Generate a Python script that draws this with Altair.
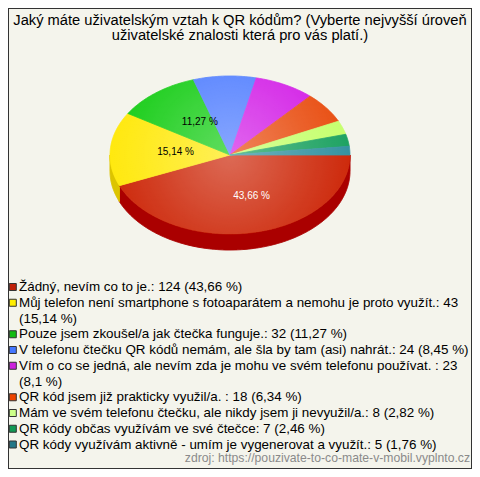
import math
import textwrap
import numpy as np
import pandas as pd
import altair as alt

# ---------------- data ----------------
labels = [
    "Žádný, nevím co to je.",
    "Můj telefon není smartphone s fotoaparátem a nemohu je proto využít.",
    "Pouze jsem zkoušel/a jak čtečka funguje.",
    "V telefonu čtečku QR kódů nemám, ale šla by tam (asi) nahrát.",
    "Vím o co se jedná, ale nevím zda je mohu ve svém telefonu používat. ",
    "QR kód jsem již prakticky využil/a. ",
    "Mám ve svém telefonu čtečku, ale nikdy jsem ji nevyužil/a.",
    "QR kódy občas využívám ve své čtečce",
    "QR kódy využívám aktivně - umím je vygenerovat a využít.",
]
counts = [124, 43, 32, 24, 23, 18, 8, 7, 5]

top_colors = ["#cc2405", "#ffe808", "#14cc14", "#4f7dff", "#d21ce6",
              "#e84a0c", "#c4ff6a", "#18a05e", "#30909f"]
side_colors = ["#aa0000", "#dcc400", "#109910", "#3355cc", "#9911aa",
               "#b83000", "#99cc44", "#117744", "#226677"]
swatch_colors = ["#c02008", "#ffee00", "#11bb11", "#4477ff", "#cc22dd",
                 "#ee4400", "#ccff88", "#119955", "#227788"]

title_lines = ["Jaký máte uživatelským vztah k QR kódům? (Vyberte nejvyšší úroveň",
               "uživatelské znalosti která pro vás platí.)"]
source_text = "zdroj: https://pouzivate-to-co-mate-v-mobil.vyplnto.cz"

# ---------------- geometry / style constants ----------------
W, H = 464, 461
CX, CY, RX, RY, DEPTH = 222, 147, 120, 79, 16
FONT = "Liberation Sans"

total = sum(counts)
pcts = [c / total * 100 for c in counts]
pct_txt = [f"{round(p, 2):g}".replace(".", ",") for p in pcts]
names = [f"s{i}" for i in range(len(counts))]

cum = np.concatenate([[0], np.cumsum(counts)]) / total * 2 * math.pi

top_rows, wall_rows, lab_rows = [], [], []
for i, n in enumerate(names):
    a, b = cum[i], cum[i + 1]
    ts = np.linspace(a, b, max(3, int((b - a) * 180 / math.pi * 2)))
    k = 0
    top_rows.append(dict(s=n, k=k, x=CX, y=CY)); k += 1
    for t in ts:
        top_rows.append(dict(s=n, k=k, x=CX + RX * math.cos(t), y=CY + RY * math.sin(t))); k += 1
    top_rows.append(dict(s=n, k=k, x=CX, y=CY))
    # visible front wall (lower half of the ellipse)
    wa, wb = max(a, 0), min(b, math.pi)
    if wb > wa:
        ws = np.linspace(wa, wb, max(3, int((wb - wa) * 180 / math.pi * 2)))
        k = 0
        for t in ws:
            wall_rows.append(dict(s=n, k=k, x=CX + RX * math.cos(t), y=CY + RY * math.sin(t))); k += 1
        for t in ws[::-1]:
            wall_rows.append(dict(s=n, k=k, x=CX + RX * math.cos(t), y=CY + DEPTH + RY * math.sin(t))); k += 1
        wall_rows.append(dict(s=n, k=k, x=CX + RX * math.cos(ws[0]), y=CY + RY * math.sin(ws[0])))
    if pcts[i] >= 10:
        m = (a + b) / 2
        lab_rows.append(dict(x=CX + 0.53 * RX * math.cos(m), y=CY + 0.53 * RY * math.sin(m),
                             t=f"{pct_txt[i]} %", c="white" if i == 0 else "black"))

top_df = pd.DataFrame(top_rows)
wall_df = pd.DataFrame(wall_rows)
lab_df = pd.DataFrame(lab_rows)
ring = np.linspace(0, 2 * math.pi, 361)
shade_df = pd.DataFrame({"k": range(len(ring)),
                         "x": CX + RX * np.cos(ring), "y": CY + RY * np.sin(ring)})

# legend lines
leg_rows = []
line = 0
for i in range(len(counts)):
    full = f"{labels[i]}: {counts[i]} ({pct_txt[i]} %)"
    parts = textwrap.wrap(full, 74, break_on_hyphens=False)
    for j, p in enumerate(parts):
        leg_rows.append(dict(line=line, text=p, col=swatch_colors[i] if j == 0 else None, first=j == 0))
        line += 1
leg_df = pd.DataFrame(leg_rows)
sw_df = leg_df[leg_df["first"]]

xs = alt.Scale(domain=[0, W], range=[0, W])
ys = alt.Scale(domain=[0, H], range=[0, H])
top_scale = alt.Scale(domain=names, range=top_colors)
side_scale = alt.Scale(domain=names, range=side_colors)

walls = alt.Chart(wall_df).mark_line(strokeWidth=1, interpolate="linear").encode(
    x=alt.X("x:Q", scale=xs, axis=None),
    y=alt.Y("y:Q", scale=ys, axis=None),
    order=alt.Order("k:Q"),
    fill=alt.Fill("s:N", scale=side_scale, legend=None),
    stroke=alt.Stroke("s:N", scale=side_scale, legend=None),
)
tops = alt.Chart(top_df).mark_line(strokeWidth=0.8, interpolate="linear").encode(
    x=alt.X("x:Q", scale=xs, axis=None),
    y=alt.Y("y:Q", scale=ys, axis=None),
    order=alt.Order("k:Q"),
    fill=alt.Fill("s:N", scale=top_scale, legend=None),
    stroke=alt.Stroke("s:N", scale=top_scale, legend=None),
)
shade = alt.Chart(shade_df).mark_line(
    strokeOpacity=0, strokeWidth=0, interpolate="linear",
    fill=alt.Gradient(gradient="radial", x1=0.5, y1=0.5, r1=0, x2=0.5, y2=0.5, r2=0.55,
                      stops=[alt.GradientStop(color="rgba(255,255,255,0.32)", offset=0),
                             alt.GradientStop(color="rgba(255,255,255,0.12)", offset=0.6),
                             alt.GradientStop(color="rgba(255,255,255,0)", offset=1)]),
).encode(
    x=alt.X("x:Q", scale=xs, axis=None),
    y=alt.Y("y:Q", scale=ys, axis=None),
    order=alt.Order("k:Q"),
)
pie_labels = alt.Chart(lab_df).mark_text(fontSize=10, font=FONT, baseline="middle", dx=9).encode(
    x=alt.X("x:Q", scale=xs, axis=None),
    y=alt.Y("y:Q", scale=ys, axis=None),
    text="t:N",
    color=alt.Color("c:N", scale=None),
)

one = pd.DataFrame({"a": [0]})
title = alt.Chart(one).mark_text(fontSize=14.7, font=FONT, align="center", baseline="alphabetic",
                                 lineHeight=15, color="black").encode(
    x=alt.value(W / 2), y=alt.value(17), text=alt.value(title_lines))

swatches = alt.Chart(sw_df).mark_square(size=49, stroke="#333", strokeWidth=1, opacity=1).encode(
    x=alt.value(4.8),
    y=alt.Y("line:Q", scale=alt.Scale(domain=[0, 10], range=[279, 436.5]), axis=None),
    fill=alt.Fill("col:N", scale=None),
)
leg_text = alt.Chart(leg_df).mark_text(fontSize=13.4, font=FONT, align="left",
                                       baseline="alphabetic", color="black").encode(
    x=alt.value(11),
    y=alt.Y("line:Q", scale=alt.Scale(domain=[0, 10], range=[283, 440.5]), axis=None),
    text="text:N",
)
source = alt.Chart(one).mark_text(fontSize=12.2, font=FONT, align="right", baseline="alphabetic",
                                  color="#8a8a8a").encode(
    x=alt.value(462), y=alt.value(454), text=alt.value(source_text))

chart = alt.layer(walls, tops, shade, pie_labels, title, swatches, leg_text, source).resolve_scale(
    x="independent", y="independent", fill="independent", stroke="independent", color="independent"
).properties(
    width=W, height=H, autosize=alt.AutoSizeParams(type="none"), padding=0,
    background="#f4f4ec",
).configure_view(stroke="#333333", strokeWidth=2)

chart.save("out.html", embed_options={"renderer": "svg", "actions": False})
